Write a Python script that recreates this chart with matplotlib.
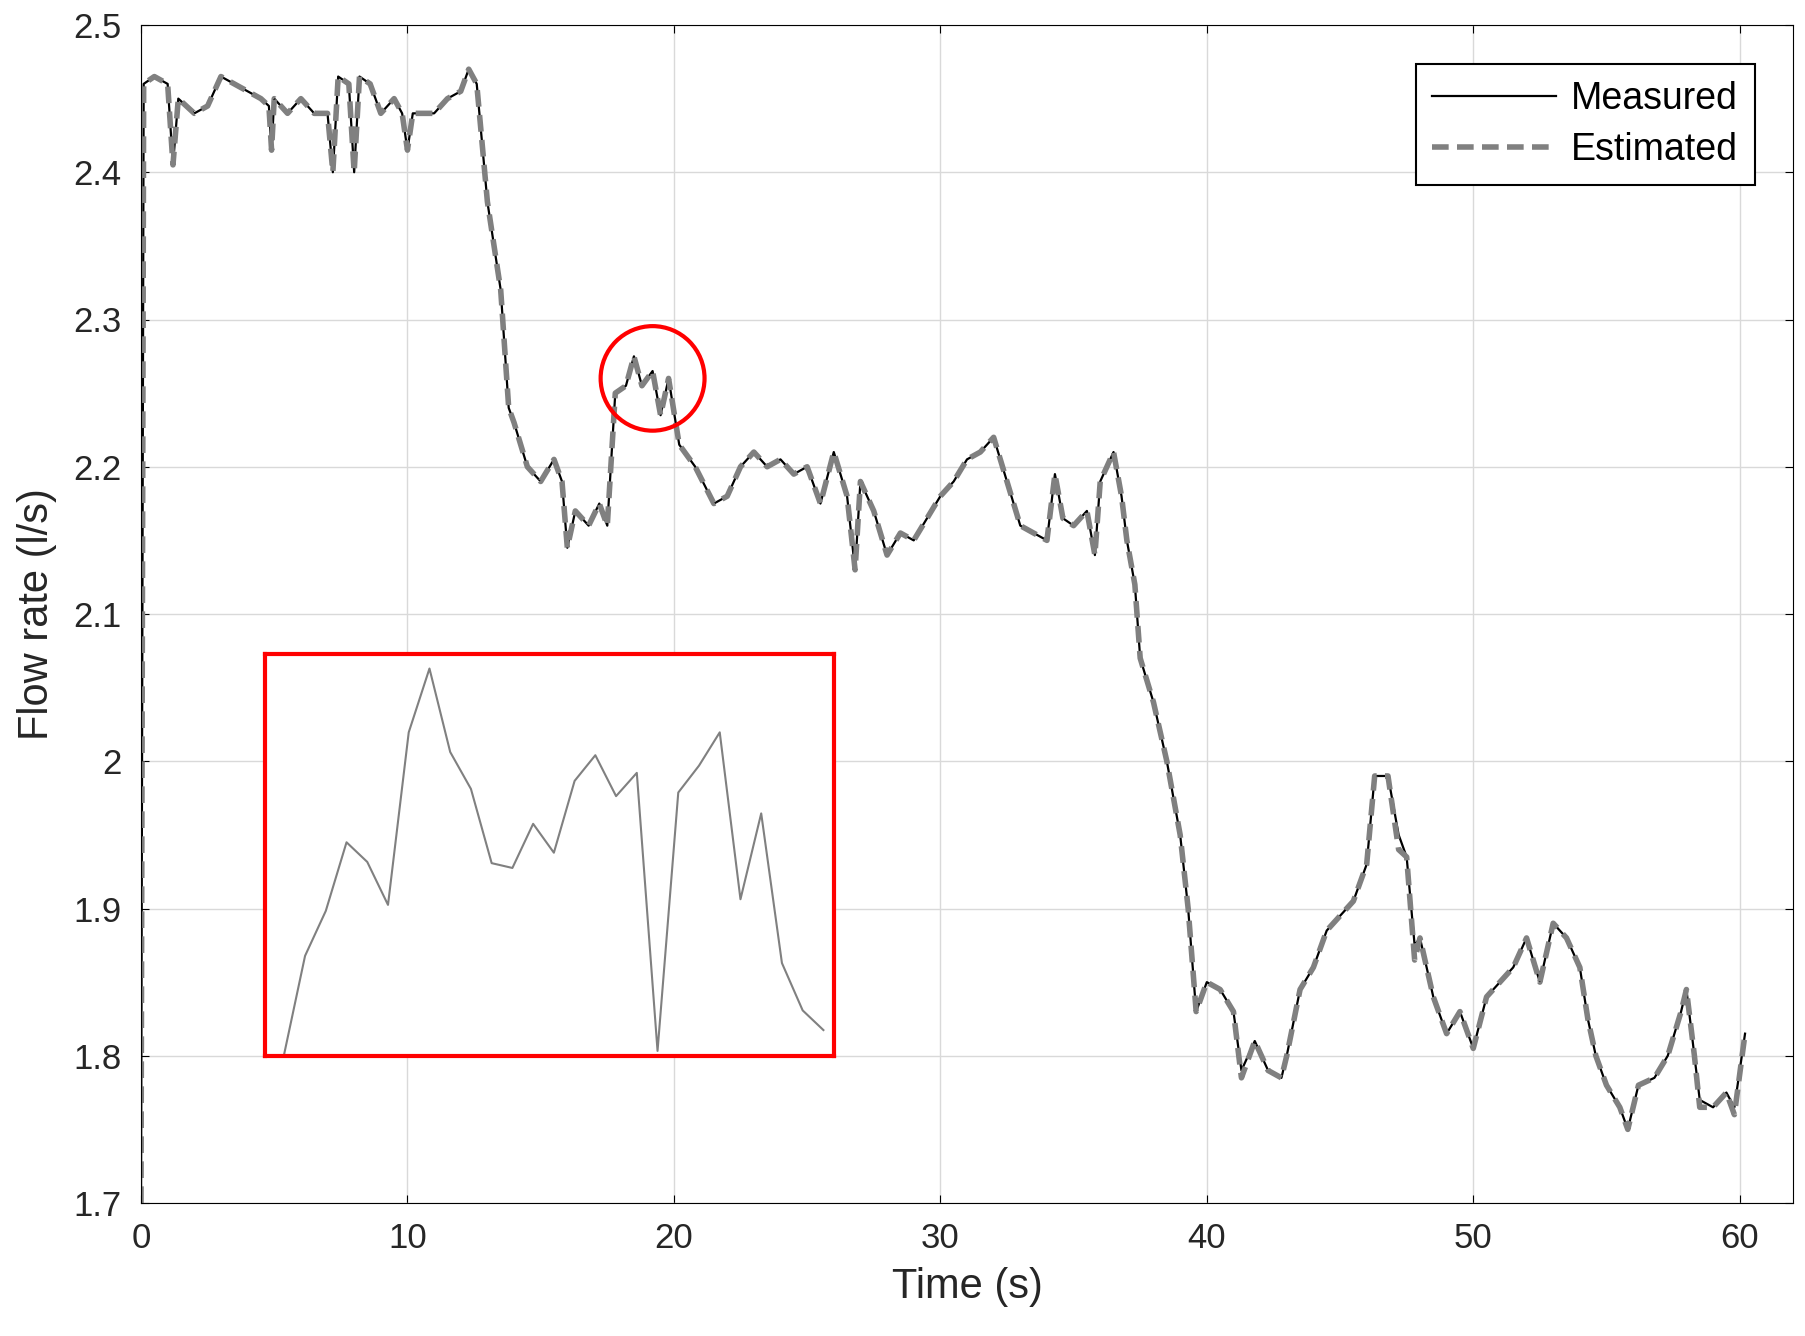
import matplotlib
matplotlib.use("Agg")
import matplotlib.pyplot as plt
from matplotlib.patches import Ellipse

plt.rcParams['font.family'] = ['Liberation Sans', 'DejaVu Sans']

t = [0,0.1,0.5,1.0,1.2,1.4,2,2.5,3,3.5,4,4.5,4.8,4.9,5.0,5.5,6,6.5,7,7.2,7.4,7.8,8.0,8.2,8.6,9,9.5,9.8,10,10.2,11,11.5,12,12.3,12.6,13,13.5,13.8,14,14.5,15,15.5,15.8,16,16.3,16.8,17.2,17.5,17.8,18.2,18.5,18.8,19.2,19.5,19.8,20.2,20.8,21.5,22,22.5,23,23.5,24,24.5,25,25.5,26,26.5,26.8,27,27.5,28,28.5,29,29.5,30,30.5,31,31.5,32,32.5,33,33.5,34,34.3,34.6,35,35.5,35.8,36,36.5,36.8,37,37.3,37.5,38,38.5,39,39.3,39.6,40,40.5,41,41.3,41.8,42.3,42.8,43,43.5,44,44.5,45,45.5,46,46.3,46.8,47.2,47.5,47.8,48,48.5,49,49.5,50,50.5,51,51.5,52,52.5,53,53.5,54,54.3,54.6,55,55.5,55.8,56.2,56.8,57.3,57.8,58,58.3,58.5,59,59.5,59.8,60.2]
measured = [1.70,2.46,2.465,2.46,2.405,2.45,2.44,2.445,2.465,2.46,2.455,2.45,2.445,2.415,2.45,2.44,2.45,2.44,2.44,2.40,2.465,2.46,2.40,2.465,2.46,2.44,2.45,2.44,2.415,2.44,2.44,2.45,2.455,2.47,2.46,2.38,2.32,2.24,2.23,2.20,2.19,2.205,2.19,2.145,2.17,2.16,2.175,2.16,2.25,2.255,2.275,2.255,2.265,2.235,2.26,2.215,2.20,2.175,2.18,2.2,2.21,2.20,2.205,2.195,2.20,2.175,2.21,2.18,2.13,2.19,2.17,2.14,2.155,2.15,2.165,2.18,2.19,2.205,2.21,2.22,2.19,2.16,2.155,2.15,2.195,2.165,2.16,2.17,2.14,2.19,2.21,2.18,2.15,2.12,2.07,2.04,2.0,1.95,1.90,1.83,1.85,1.845,1.83,1.79,1.81,1.79,1.785,1.80,1.845,1.86,1.885,1.895,1.905,1.93,1.99,1.99,1.95,1.935,1.875,1.88,1.84,1.815,1.83,1.805,1.84,1.85,1.86,1.88,1.85,1.89,1.88,1.86,1.825,1.80,1.78,1.765,1.75,1.78,1.785,1.80,1.83,1.845,1.80,1.77,1.765,1.775,1.765,1.815]
estimated = [1.70,2.46,2.465,2.46,2.405,2.45,2.44,2.445,2.465,2.46,2.455,2.45,2.445,2.415,2.45,2.44,2.45,2.44,2.44,2.40,2.465,2.46,2.40,2.465,2.46,2.44,2.45,2.44,2.415,2.44,2.44,2.45,2.455,2.47,2.46,2.38,2.32,2.24,2.23,2.20,2.19,2.205,2.19,2.145,2.17,2.16,2.175,2.16,2.25,2.255,2.275,2.255,2.265,2.235,2.26,2.215,2.20,2.175,2.18,2.2,2.21,2.20,2.205,2.195,2.20,2.175,2.21,2.18,2.13,2.19,2.17,2.14,2.155,2.15,2.165,2.18,2.19,2.205,2.21,2.22,2.19,2.16,2.155,2.15,2.195,2.165,2.16,2.17,2.14,2.19,2.21,2.18,2.15,2.12,2.07,2.04,2.0,1.95,1.90,1.83,1.85,1.845,1.83,1.785,1.81,1.79,1.785,1.80,1.845,1.86,1.885,1.895,1.905,1.93,1.99,1.99,1.94,1.935,1.865,1.88,1.84,1.815,1.83,1.805,1.84,1.85,1.86,1.88,1.85,1.89,1.88,1.86,1.825,1.80,1.78,1.765,1.75,1.78,1.785,1.80,1.83,1.845,1.80,1.765,1.765,1.775,1.76,1.815]

inset_x = [0,1,2,3,4,5,6,7,8,9,10,11,12,13,14,15,16,17,18,19,20,21,22,23,24,25,26]
inset_q = [0.006,0.249,0.361,0.532,0.483,0.376,0.806,0.965,0.757,0.665,0.48,0.468,0.578,0.506,0.685,0.749,0.647,0.705,0.012,0.656,0.723,0.806,0.39,0.604,0.231,0.113,0.064]

fig = plt.figure(figsize=(18.05, 13.36), dpi=100)
ax = fig.add_axes([141/1805, 1-1203/1336, (1793-141)/1805, (1203-25)/1336])
ax.plot(t, measured, color='black', lw=1.6, label='Measured')
ax.plot(t, estimated, color='#808080', lw=4, ls=(0, (3, 1.5)), label='Estimated')
ax.set_xlim(0, 62)
ax.set_ylim(1.7, 2.5)
ax.set_xticks([0,10,20,30,40,50,60])
ax.set_yticks([1.7,1.8,1.9,2.0,2.1,2.2,2.3,2.4,2.5])
ax.set_yticklabels(['1.7','1.8','1.9','2','2.1','2.2','2.3','2.4','2.5'])
ax.grid(True, color='#d9d9d9', lw=1)
ax.tick_params(labelsize=25, direction='in', length=6, top=True, right=True, pad=14, labelcolor='#262626')
ax.set_xlabel('Time (s)', fontsize=30, color='#262626', labelpad=8)
ax.set_ylabel('Flow rate (l/s)', fontsize=30, color='#262626', labelpad=12)
leg = ax.legend(loc='upper right', bbox_to_anchor=(0.977, 0.967), fontsize=27, fancybox=False,
                edgecolor='black', framealpha=1, handlelength=3.3, borderpad=0.45,
                labelspacing=0.4, handletextpad=0.4, borderaxespad=0)
leg.get_frame().set_linewidth(1.5)
ax.add_patch(Ellipse((19.2, 2.26), 3.9, 0.071, fill=False, edgecolor='red', lw=3, zorder=5))

r = ax.get_position()
x0 = r.x0 + r.width * 4.64 / 62
x1 = r.x0 + r.width * 26.0 / 62
y0 = r.y0 + r.height * (1.8 - 1.7) / 0.8
y1 = r.y0 + r.height * (2.0725 - 1.7) / 0.8
ins = fig.add_axes([x0, y0, x1 - x0, y1 - y0])
ins.plot(inset_x, inset_q, color='#808080', lw=1.5)
ins.set_xlim(-0.95, 26.5)
ins.set_ylim(0, 1.0)
ins.set_xticks([]); ins.set_yticks([])
for s in ins.spines.values():
    s.set_color('red'); s.set_linewidth(3)

fig.savefig('out.png', dpi=100)
